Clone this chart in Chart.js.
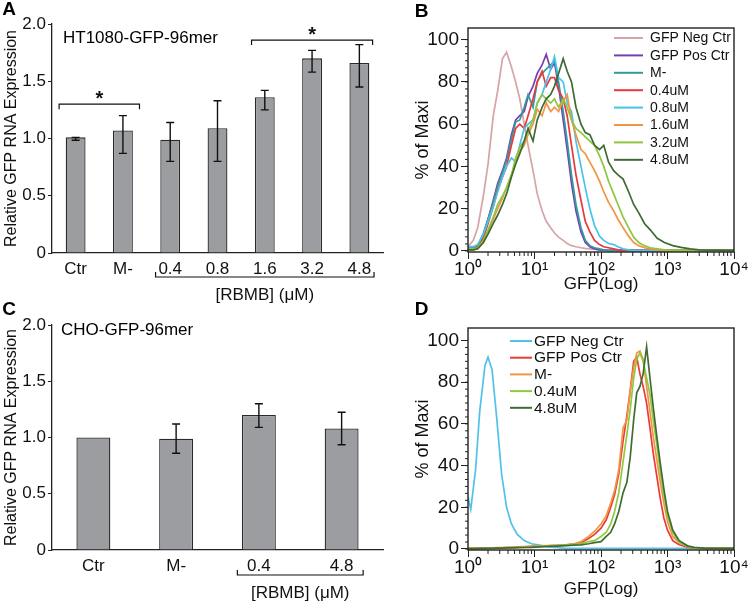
<!DOCTYPE html>
<html>
<head>
<meta charset="utf-8">
<script src="https://cdn.jsdelivr.net/npm/chart.js@4.4.0/dist/chart.umd.min.js"></script>
<style>
  body { margin: 0; background: #fff; width: 751px; height: 603px; position: relative; overflow: hidden; }
  canvas { position: absolute; }
</style>
</head>
<body>
<canvas id="chartA" width="390" height="310" style="left:0;top:0"></canvas>
<canvas id="chartB" width="361" height="300" style="left:390px;top:0"></canvas>
<canvas id="chartC" width="390" height="303" style="left:0;top:300px"></canvas>
<canvas id="chartD" width="361" height="303" style="left:390px;top:300px"></canvas>
<script>
// ---- panel A: HT1080 qPCR ----
const labelsA = ["Ctr", "M-", "0.4", "0.8", "1.6", "3.2", "4.8"];
const valuesA = [1.01, 1.07, 0.99, 1.09, 1.36, 1.70, 1.66];
const errLowA = [0.985, 0.87, 0.80, 0.80, 1.25, 1.58, 1.45];
const errHighA = [1.01, 1.20, 1.14, 1.33, 1.42, 1.77, 1.82];

// ---- panel C: CHO qPCR ----
const labelsC = ["Ctr", "M-", "0.4", "4.8"];
const valuesC = [1.0, 0.99, 1.20, 1.08];
const errLowC = [null, 0.86, 1.09, 0.935];
const errHighC = [null, 1.12, 1.30, 1.225];

const yTicksBar = [0, 0.5, 1.0, 1.5, 2.0];

// ---- panel B: HT1080 flow histograms ----
const gfpB = [1, 1.2, 1.4, 1.7, 2, 2.4, 2.8, 3.3, 3.8, 4.5, 5.2, 6, 7, 8, 9.5, 11, 13, 15, 17.5, 20, 23, 27, 31, 36, 42, 50, 58, 68, 80, 95, 110, 130, 155, 180, 215, 260, 310, 370, 450, 550, 700, 900, 1200, 1600, 2200, 3000, 10000];
const seriesNamesB = ["GFP Neg Ctr", "GFP Pos Ctr", "M-", "0.4uM", "0.8uM", "1.6uM", "3.2uM", "4.8uM"];
const colorsB = ["#d7a3a6", "#7a3db0", "#2f9c9e", "#e8373f", "#48c4ea", "#f39442", "#8fc63f", "#3e6a33"];
const negB = [2, 5, 11, 26, 41, 64, 76, 91, 94, 87, 80, 72, 60, 50, 38, 27, 19, 14, 11, 8.5, 6.5, 5, 3.5, 2.5, 2, 1.5, 1.2, 1, 0.8, 0.5, 0.4, 0.3, 0.3, 0.3, 0.3, 0.3, 0.3, 0.3, 0.3, 0.3, 0.3, 0.3, 0.3, 0.3, 0.3, 0.3, 0.3];
const posB = [1.5, 1.5, 2, 8, 15, 24, 32, 38, 44, 55, 62, 64, 66, 73, 78, 84, 88, 93, 86, 89, 78, 62, 48, 32, 19, 9, 4, 2, 1, 0.5, 0.3, 0.3, 0.3, 0.3, 0.3, 0.3, 0.3, 0.3, 0.3, 0.3, 0.3, 0.3, 0.3, 0.3, 0.3, 0.3, 0.3];
const mMinusB = [1.5, 1.5, 2.5, 8, 15, 23, 31, 37, 43, 53, 61, 62, 68, 74, 68, 80, 84, 86, 88, 90, 80, 66, 52, 36, 22, 11, 5, 2.5, 1.5, 1, 0.5, 0.3, 0.3, 0.3, 0.3, 0.3, 0.3, 0.3, 0.3, 0.3, 0.3, 0.3, 0.3, 0.3, 0.3, 0.3, 0.3];
const dose04B = [1, 1, 2, 6, 13, 21, 29, 35, 40, 50, 58, 60, 58, 64, 72, 80, 85, 78, 82, 82, 76, 72, 64, 50, 36, 24, 14, 9, 5, 3, 2, 1.5, 1, 0.5, 0.3, 0.3, 0.3, 0.3, 0.3, 0.3, 0.3, 0.3, 0.3, 0.3, 0.3, 0.3, 0.3];
const dose08B = [2, 2, 3, 8, 14, 21, 28, 35, 40, 44, 42, 50, 58, 60, 62, 70, 74, 80, 86, 92, 82, 80, 70, 66, 52, 40, 30, 20, 12, 7, 5, 3.5, 3, 2, 1, 0.5, 0.3, 0.3, 0.3, 0.3, 0.3, 0.3, 0.3, 0.3, 0.3, 0.3, 0.3];
const dose16B = [0.5, 0.5, 1, 4, 9, 15, 20, 25, 30, 36, 42, 47, 50, 55, 60, 67, 64, 70, 66, 68, 66, 71, 74, 62, 55, 48, 46, 42, 38, 33, 28, 23, 19, 15, 11, 7, 4, 2.5, 1.5, 1, 0.5, 0.3, 0.3, 0.3, 0.3, 0.3, 0.3];
const dose32B = [1, 1, 1.5, 5, 10, 16, 22, 26, 30, 36, 44, 49, 52, 57, 62, 70, 74, 72, 70, 72, 68, 72, 68, 62, 58, 56, 54, 52, 50, 45, 40, 33, 27, 22, 16, 11, 6.5, 4, 2.5, 1.5, 1, 0.5, 0.3, 0.3, 0.3, 0.3, 0.3];
const dose48B = [0.5, 0.5, 1, 4, 8, 13, 17, 22, 27, 35, 41, 46, 52, 58, 52, 62, 68, 72, 74, 78, 84, 91, 85, 80, 68, 60, 56, 55, 50, 48, 50, 42, 38, 36, 34, 28, 22, 18, 13, 10, 6, 4, 2.5, 1.7, 1, 0.5, 0.3];

// ---- panel D: CHO flow histograms ----
const gfpD = [1, 1.1, 1.3, 1.5, 1.8, 2, 2.3, 2.7, 3.2, 3.8, 4.5, 5.5, 7, 9, 12, 16, 22, 30, 40, 50, 65, 80, 100, 120, 140, 160, 185, 215, 245, 275, 310, 345, 385, 430, 485, 545, 610, 690, 780, 880, 1000, 1200, 1500, 2000, 2500, 3500, 10000];
const seriesNamesD = ["GFP Neg Ctr", "GFP Pos Ctr", "M-", "0.4uM", "4.8uM"];
const colorsD = ["#52c1ea", "#ea3b35", "#f29445", "#8fca3e", "#3f6c33"];
const negD = [25, 19, 38, 66, 88, 92, 86, 63, 36, 20, 12, 7, 4, 2.5, 1.8, 1, 0.6, 0.3, 0.3, 0.3, 0.3, 0.3, 0.3, 0.3, 0.3, 0.3, 0.3, 0.3, 0.3, 0.3, 0.3, 0.3, 0.3, 0.3, 0.3, 0.3, 0.3, 0.3, 0.3, 0.3, 0.3, 0.3, 0.3, 0.3, 0.3, 0.3, 0.3];
const posD = [0.3, 0.3, 0.3, 0.3, 0.3, 0.4, 0.4, 0.5, 0.5, 0.6, 0.7, 0.8, 1, 1.2, 1.4, 1.5, 1.7, 2, 2.5, 3, 5, 7, 10, 14, 20, 26, 36, 52, 64, 76, 90, 92, 84, 78, 70, 58, 46, 35, 24, 15, 9, 4, 2, 0.8, 0.4, 0.3, 0.3];
const mMinusD = [0.3, 0.3, 0.3, 0.3, 0.3, 0.4, 0.5, 0.6, 0.7, 0.8, 0.9, 1, 1.1, 1.2, 1.5, 1.6, 1.8, 2, 2.5, 3.5, 6, 8.5, 12, 16, 22, 28, 38, 58, 62, 76, 87, 94, 95, 91, 78, 66, 54, 43, 32, 22, 13, 6, 3, 1.2, 0.5, 0.3, 0.3];
const dose04D = [0.3, 0.3, 0.3, 0.3, 0.3, 0.3, 0.4, 0.4, 0.5, 0.5, 0.6, 0.7, 0.8, 1, 1.2, 1.4, 1.6, 1.8, 2.2, 2.5, 3.5, 4, 6, 8, 12, 18, 27, 42, 55, 67, 82, 91, 94, 90, 82, 74, 62, 50, 37, 26, 16, 8, 3, 1.2, 0.6, 0.3, 0.3];
const dose48D = [0.2, 0.2, 0.2, 0.3, 0.3, 0.3, 0.3, 0.4, 0.4, 0.5, 0.5, 0.6, 0.7, 0.8, 1, 1.2, 1.4, 1.6, 1.8, 2, 2.5, 3, 3.5, 6, 8, 12, 18, 27, 32, 44, 62, 75, 78, 84, 97, 82, 68, 54, 41, 29, 18, 9, 4, 1.5, 0.8, 0.4, 0.3];

const decadeTicks = [1, 10, 100, 1000, 10000];
const decadeLabels = ["10\u2070", "10\u00b9", "10\u00b2", "10\u00b3", "10\u2074"];
const yTicksFlow = [0, 20, 40, 60, 80, 100];

const FONT = "'Liberation Sans', Arial, sans-serif";
Chart.defaults.font.family = FONT;
Chart.defaults.color = "#111";
Chart.defaults.animation = false;
const axisColor = "#222";

// panel letter + inner title
const panelText = {
  id: "panelText",
  afterDraw(chart, args, o) {
    const ctx = chart.ctx;
    ctx.save();
    ctx.fillStyle = "#000";
    ctx.textBaseline = "middle";
    ctx.textAlign = "center";
    ctx.font = "bold 19px " + FONT;
    ctx.fillText(o.letter, o.lx, o.ly);
    if (o.title) {
      ctx.textAlign = "left";
      ctx.font = "17px " + FONT;
      ctx.fillText(o.title, o.tx, o.ty);
    }
    ctx.restore();
  }
};

// error bars, significance brackets and the dose bracket under the axis
const barMarks = {
  id: "barMarks",
  afterDatasetsDraw(chart, args, o) {
    const ctx = chart.ctx, x = chart.scales.x, y = chart.scales.y, a = chart.chartArea;
    const cat = x.getPixelForValue(1) - x.getPixelForValue(0);
    ctx.save();
    ctx.strokeStyle = "#111";
    ctx.fillStyle = "#111";
    ctx.lineWidth = 1.4;
    o.low.forEach((lo, i) => {
      if (lo == null) return;
      const px = x.getPixelForValue(i);
      const y1 = y.getPixelForValue(lo), y2 = y.getPixelForValue(o.high[i]);
      ctx.beginPath();
      ctx.moveTo(px, y1); ctx.lineTo(px, y2);
      ctx.moveTo(px - 4, y1); ctx.lineTo(px + 4, y1);
      ctx.moveTo(px - 4, y2); ctx.lineTo(px + 4, y2);
      ctx.stroke();
    });
    ctx.lineWidth = 1.2;
    ctx.textAlign = "center";
    (o.stars || []).forEach(([from, to, level, over]) => {
      const x1 = x.getPixelForValue(from) - over * cat;
      const x2 = x.getPixelForValue(to) + over * cat;
      const py = y.getPixelForValue(level);
      ctx.beginPath();
      ctx.moveTo(x1, py + 5); ctx.lineTo(x1, py); ctx.lineTo(x2, py); ctx.lineTo(x2, py + 5);
      ctx.stroke();
      ctx.font = "bold 20px " + FONT;
      ctx.textBaseline = "alphabetic";
      ctx.fillText("*", (x1 + x2) / 2, py + 1);
    });
    const g1 = x.getPixelForValue(o.groupFrom) - o.groupOver * cat;
    const g2 = x.getPixelForValue(o.groupTo) + o.groupOver * cat;
    const gy = a.bottom + o.groupDy;
    ctx.beginPath();
    ctx.moveTo(g1, gy - 5); ctx.lineTo(g1, gy); ctx.lineTo(g2, gy); ctx.lineTo(g2, gy - 5);
    ctx.stroke();
    ctx.font = "17px " + FONT;
    ctx.textBaseline = "middle";
    ctx.fillText("[RBMB] (\u03bcM)", (g1 + g2) / 2, gy + 18.5);
    ctx.restore();
  }
};

// box, minor ticks on log x and y
const flowFrame = {
  id: "flowFrame",
  afterDraw(chart) {
    const ctx = chart.ctx, a = chart.chartArea, x = chart.scales.x, y = chart.scales.y;
    ctx.save();
    ctx.strokeStyle = axisColor;
    ctx.lineWidth = 1;
    ctx.beginPath();
    for (let d = 1; d < 10000; d *= 10) {
      for (let k = 2; k < 10; k++) {
        const px = x.getPixelForValue(d * k);
        ctx.moveTo(px, a.bottom); ctx.lineTo(px, a.bottom + 4);
      }
    }
    for (let i = 0; i <= 30; i++) {
      const py = y.getPixelForValue(i * 10 / 3);
      ctx.moveTo(a.left, py); ctx.lineTo(a.left - 3, py);
    }
    ctx.stroke();
    ctx.lineWidth = 1.4;
    ctx.strokeRect(a.left, a.top, a.right - a.left, a.bottom - a.top);
    ctx.restore();
  }
};

// legend drawn inside the plot box
const flowLegend = {
  id: "flowLegend",
  afterDraw(chart, args, o) {
    const ctx = chart.ctx;
    ctx.save();
    ctx.font = o.size + "px " + FONT;
    ctx.textBaseline = "middle";
    ctx.textAlign = "left";
    ctx.lineWidth = 2;
    chart.data.datasets.forEach((ds, i) => {
      const yy = o.y0 + i * o.step;
      ctx.strokeStyle = ds.borderColor;
      ctx.beginPath(); ctx.moveTo(o.x1, yy); ctx.lineTo(o.x2, yy); ctx.stroke();
      ctx.fillStyle = "#111";
      ctx.fillText(ds.label, o.tx, yy + 0.5);
    });
    ctx.restore();
  }
};

function barChart(id, labels, values, marks, text, opt) {
  return new Chart(document.getElementById(id), {
    type: "bar",
    data: {
      labels: labels,
      datasets: [{
        data: values,
        backgroundColor: "#9c9da0",
        borderColor: "#2a2a2a",
        borderWidth: 1.3,
        barPercentage: opt.barPct,
        categoryPercentage: 1
      }]
    },
    options: {
      responsive: false,
      layout: { padding: { top: opt.top, right: opt.right, left: 0, bottom: 0 } },
      plugins: { legend: { display: false }, tooltip: { enabled: false }, barMarks: marks, panelText: text },
      scales: {
        x: {
          grid: { display: false, drawTicks: false },
          border: { color: axisColor, width: 1.3 },
          ticks: { font: { size: 17 }, padding: 6, color: "#111", maxRotation: 0 },
          afterFit: (s) => { s.height = opt.xh; }
        },
        y: {
          min: 0, max: 2,
          afterBuildTicks: (s) => { s.ticks = yTicksBar.map((v) => ({ value: v })); },
          ticks: { font: { size: 17 }, padding: 2, color: "#111", callback: (v) => (v === 0 ? "0" : v.toFixed(1)) },
          grid: { drawOnChartArea: false, tickLength: 4, color: axisColor },
          border: { color: axisColor, width: 1.3 },
          title: { display: true, text: "Relative GFP RNA Expression", font: { size: 16 }, padding: { top: 2, bottom: 0 }, color: "#111" },
          afterFit: (s) => { s.width = 52; }
        }
      }
    },
    plugins: [barMarks, panelText]
  });
}

function flowChart(id, xs, names, colors, ys, legend, text, opt) {
  return new Chart(document.getElementById(id), {
    type: "line",
    data: {
      datasets: names.map((name, k) => ({
        label: name,
        data: xs.map((g, i) => ({ x: g, y: ys[k][i] })),
        borderColor: colors[k],
        borderWidth: 1.7,
        pointRadius: 0,
        tension: 0,
        fill: false,
        order: names.length - k
      }))
    },
    options: {
      responsive: false,
      layout: { padding: { top: opt.top, right: opt.right, left: 0, bottom: 0 } },
      plugins: { legend: { display: false }, tooltip: { enabled: false }, flowLegend: legend, panelText: text },
      scales: {
        x: {
          type: "logarithmic", min: 1, max: 10000,
          afterBuildTicks: (s) => { s.ticks = decadeTicks.map((v) => ({ value: v })); },
          ticks: { font: { size: 19 }, padding: -1, color: "#111", autoSkip: false, maxRotation: 0, callback: (v, i) => decadeLabels[i] },
          grid: { drawOnChartArea: false, tickLength: 7, color: axisColor },
          border: { display: false },
          title: { display: true, text: "GFP(Log)", font: { size: 17 }, padding: { top: 0, bottom: opt.titleBottom }, color: "#111" },
          afterFit: (s) => { s.height = opt.xh; }
        },
        y: {
          min: -0.5, max: opt.ymax,
          afterBuildTicks: (s) => { s.ticks = yTicksFlow.map((v) => ({ value: v })); },
          ticks: { font: { size: 19 }, padding: 2, color: "#111" },
          grid: { drawOnChartArea: false, tickLength: 7, color: axisColor },
          border: { display: false },
          title: { display: true, text: "% of Maxi", font: { size: 18 }, padding: { top: 22, bottom: 0 }, color: "#111" },
          afterFit: (s) => { s.width = 78; }
        }
      }
    },
    plugins: [flowFrame, flowLegend, panelText]
  });
}

barChart("chartA", labelsA, valuesA,
  { low: errLowA, high: errHighA, stars: [[0, 1, 1.30, 0.35], [4, 6, 1.86, 0.28]], groupFrom: 2, groupTo: 6, groupOver: 0.31, groupDy: 24 },
  { letter: "A", lx: 9, ly: 10, title: "HT1080-GFP-96mer", tx: 63, ty: 38.5 },
  { top: 24, right: 7, xh: 57, barPct: 0.42 });

barChart("chartC", labelsC, valuesC,
  { low: errLowC, high: errHighC, stars: [], groupFrom: 2, groupTo: 3, groupOver: 0.26, groupDy: 25 },
  { letter: "C", lx: 9, ly: 10, title: "CHO-GFP-96mer", tx: 61, ty: 30 },
  { top: 25, right: 7, xh: 53, barPct: 0.41 });

flowChart("chartB", gfpB, seriesNamesB, colorsB,
  [negB, posB, mMinusB, dose04B, dose08B, dose16B, dose32B, dose48B],
  { x1: 224, x2: 253, tx: 260, y0: 38, step: 17.4, size: 14 },
  { letter: "B", lx: 31.5, ly: 11.5 },
  { top: 28, right: 17, xh: 48, ymax: 105.5, titleBottom: 5 });

flowChart("chartD", gfpD, seriesNamesD, colorsD,
  [negD, posD, mMinusD, dose04D, dose48D],
  { x1: 120, x2: 142, tx: 144, y0: 41, step: 16.7, size: 15.5 },
  { letter: "D", lx: 31.5, ly: 10 },
  { top: 28, right: 17, xh: 53, ymax: 106, titleBottom: 3 });
</script>
</body>
</html>
